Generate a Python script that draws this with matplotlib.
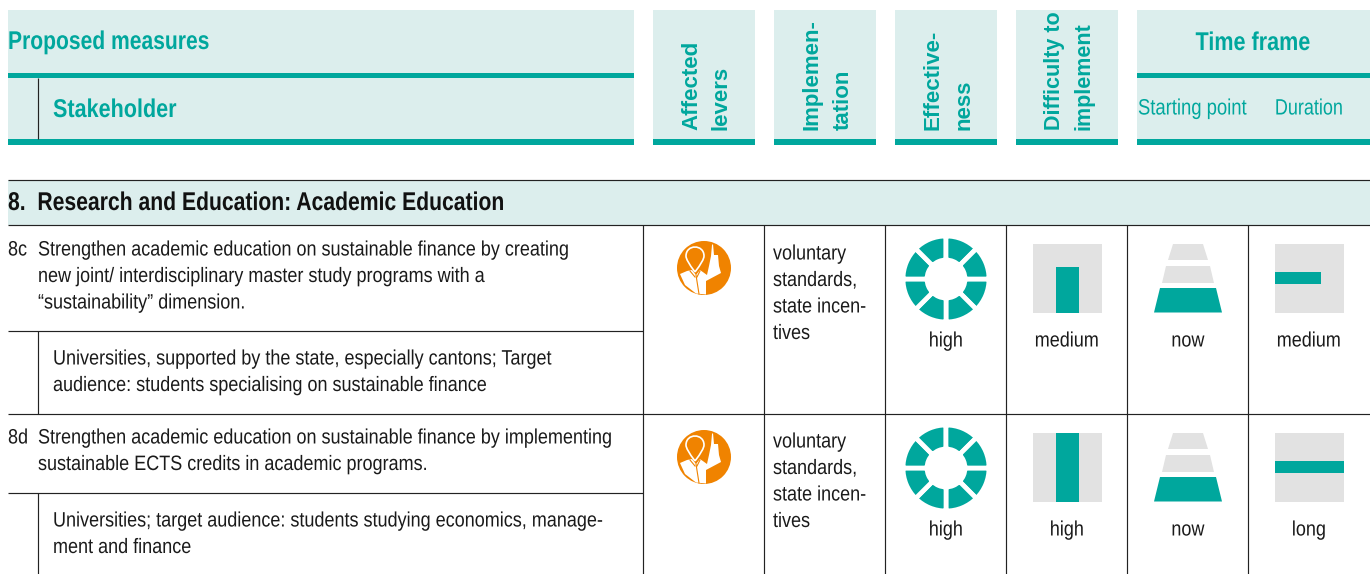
import matplotlib
matplotlib.use("Agg")
import matplotlib.pyplot as plt
from matplotlib.patches import Rectangle, Wedge, Polygon, Circle, PathPatch
from matplotlib.path import Path
from matplotlib.patheffects import AbstractPathEffect
from matplotlib.transforms import Affine2D

WIDE = ['Liberation Sans', 'DejaVu Sans']

TEAL = '#00a79d'
BAND = '#dceeed'
ORANGE = '#f08300'
GREY = '#e2e2e2'
INK = '#222222'

# table content
section_title = "8.  Research and Education: Academic Education"
measure_ids = ["8c", "8d"]
measure_lines = [
    ["Strengthen academic education on sustainable finance by creating",
     "new joint/ interdisciplinary master study programs with a",
     "“sustainability” dimension."],
    ["Strengthen academic education on sustainable finance by implementing",
     "sustainable ECTS credits in academic programs."],
]
stakeholder_lines = [
    ["Universities, supported by the state, especially cantons; Target",
     "audience: students specialising on sustainable finance"],
    ["Universities; target audience: students studying economics, manage-",
     "ment and finance"],
]
implementation_lines = ["voluntary", "standards,", "state incen-", "tives"]
effectiveness = ["high", "high"]
difficulty = ["medium", "high"]
starting_point = ["now", "now"]
duration = ["medium", "long"]

rotated_headers = [["Affected", "levers"], ["Implemen-", "tation"],
                   ["Effective-", "ness"], ["Difficulty to", "implement"]]
level_share = {"medium": 2 / 3, "long": 1.0, "high": 1.0}

# layout in pixels
row_tops = [225, 414]
text_tops = [225, 413]
sub_lines = [331, 493]
col_lines = [643, 764, 885, 1006, 1127, 1248]
header_cols = [(653, 755), (774, 876), (895, 997), (1016, 1118)]
rotated_x = [(691.5, 721), (812, 843), (933, 964), (1054.5, 1084)]
rotated_size = [16, 16, 16, 15.5]

fig = plt.figure(figsize=(13.7, 5.74), dpi=100)
ax = fig.add_axes([0, 0, 1, 1])
ax.set_xlim(0, 1370)
ax.set_ylim(574, 0)
ax.axis("off")


# no condensed face installed, so narrow the text around its anchor when drawing
class Squeeze(AbstractPathEffect):
    def __init__(self, x0, sx):
        super().__init__()
        self.x0 = x0
        self.sx = sx

    def draw_path(self, renderer, gc, tpath, affine, rgbFace=None):
        t = affine + Affine2D().translate(-self.x0, 0).scale(self.sx, 1).translate(self.x0, 0)
        renderer.draw_path(gc, tpath, t, rgbFace)


def narrow(x, y, s, size, sx, color, ha="left", weight="normal"):
    ax.text(x, y, s, family=WIDE, fontsize=size, color=color, ha=ha, va="center", fontweight=weight,
            zorder=6, path_effects=[Squeeze(x, sx)])


def box(x0, y0, x1, y1, color, z=2):
    ax.add_patch(Rectangle((x0, y0), x1 - x0, y1 - y0, fc=color, ec="none", zorder=z))


def line(x0, y0, x1, y1):
    ax.plot([x0, x1], [y0, y1], color=INK, lw=0.85, zorder=3, solid_capstyle="butt")


def body(x, y, s, ha="left"):
    narrow(x, y, s, 15, 0.865, "#1a1a1a", ha=ha)


def trapezoid(cx, y0, y1, w0, w1, color):
    ax.add_patch(Polygon([(cx - w0, y0), (cx + w0, y0), (cx + w1, y1), (cx - w1, y1)],
                         fc=color, ec="none", zorder=4))


def person(cx, cy):
    ax.add_patch(Circle((cx, cy), 27, fc=ORANGE, ec="none", zorder=4))
    # shirt and raised arm, relative to the circle centre
    shirt = [(-24, 6), (-17, 3), (-12, 2), (-8, 7), (-4, 2), (3, 7), (5, -2), (7, -12), (8, -23), (9, -24),
             (10, -13), (14, -13), (15, -2), (17, 5), (2, 13), (2, 26.5), (-8, 25.5), (-19, 17)]
    ax.add_patch(Polygon([(cx + a, cy + b) for a, b in shirt], fc="white", ec="none", zorder=5))
    head = [(-9, 4), (-15, -4), (-18, -9), (-18, -12), (-18, -24), (0, -24), (0, -12), (0, -9), (-3, -4), (-9, 4)]
    codes = [Path.MOVETO] + [Path.CURVE4] * 9
    ax.add_patch(PathPatch(Path([(cx + a, cy + b) for a, b in head], codes), fc=ORANGE, ec="white",
                           lw=1.2, zorder=6))
    for a, b, c, d in [(-8, 7, -5, 26), (-14, 3, -9, 9), (-4, 3, -7, 9)]:
        ax.plot([cx + a, cx + c], [cy + b, cy + d], color=ORANGE, lw=0.8, zorder=6)


def wheel(cx, cy, level):
    for k in range(8):
        ax.add_patch(Wedge((cx, cy), 43, 45 * k, 45 * (k + 1), width=24,
                           fc=TEAL if level == "high" else GREY, ec="white", lw=3.4, zorder=4))


# header bands
box(8, 10, 634, 145, BAND, 1)
for x0, x1 in header_cols:
    box(x0, 10, x1, 145, BAND, 1)
box(1137, 10, 1370, 145, BAND, 1)
for x0, x1 in [(8, 634), (1137, 1370)]:
    box(x0, 73, x1, 78, TEAL)
for x0, x1 in [(8, 634)] + header_cols + [(1137, 1370)]:
    box(x0, 139, x1, 144.5, TEAL)
line(38.5, 78, 38.5, 139)

narrow(8, 42, "Proposed measures", 18.5, 0.82, TEAL, weight="bold")
narrow(53, 110, "Stakeholder", 18.5, 0.84, TEAL, weight="bold")
narrow(1253, 43, "Time frame", 18.5, 0.84, TEAL, ha="center", weight="bold")
narrow(1192.5, 109, "Starting point", 16, 0.83, TEAL, ha="center")
narrow(1309, 109, "Duration", 16, 0.81, TEAL, ha="center")

for xs, words, size in zip(rotated_x, rotated_headers, rotated_size):
    for x, w in zip(xs, words):
        ax.text(x, 130, w, family=WIDE, fontsize=size, fontweight="bold", color=TEAL,
                rotation=90, ha="center", va="bottom", zorder=6)

# section band
box(8, 180, 1370, 225, BAND, 1)
line(8, 180, 1370, 180)
line(8, 225, 1370, 225)
narrow(8, 203, section_title, 18.5, 0.823, "#111111", weight="bold")

# grid
line(8, row_tops[1], 1370, row_tops[1])
for y in sub_lines:
    line(8, y, 643, y)
for x in col_lines:
    line(x + .5, 225, x + .5, 574)
line(38.5, sub_lines[0], 38.5, row_tops[1])
line(38.5, sub_lines[1], 38.5, 574)

# rows
for r, top in enumerate(row_tops):
    text_top = text_tops[r]
    body(8, text_top + 25, measure_ids[r])
    for i, s in enumerate(measure_lines[r]):
        body(38, text_top + 25 + i * 26.5, s)
    for i, s in enumerate(stakeholder_lines[r]):
        body(53, sub_lines[r] + 28 + i * 26.5, s)
    for i, s in enumerate(implementation_lines):
        body(773, text_top + 29 + i * 26.5, s)

    person(704, top + 43)
    wheel(946, top + 54, effectiveness[r])

    # difficulty: vertical bar filling the grey square
    y0, y1 = top + 19, top + 88
    box(1033, y0, 1102, y1, GREY, 3)
    h = 69 * level_share[difficulty[r]]
    ax.bar(1067.5, h, width=23, bottom=y1 - h, color=TEAL, zorder=4)

    # starting point: three stacked trapezoids, the bottom one is now
    cx = 1188
    lit = starting_point[r] == "now"
    trapezoid(cx, top + 63, top + 87.5, 28, 34, TEAL if lit else GREY)
    trapezoid(cx, top + 41, top + 58, 22, 26, GREY)
    trapezoid(cx, top + 19, top + 35, 15, 20, GREY)

    # duration: horizontal bar
    box(1275, y0, 1344, y1, GREY, 3)
    ax.barh(top + 53, 69 * level_share[duration[r]], height=12, left=1275, color=TEAL, zorder=4)

    label_y = top + 116
    body(946, label_y, effectiveness[r], ha="center")
    body(1067, label_y, difficulty[r], ha="center")
    body(1188, label_y, starting_point[r], ha="center")
    body(1309, label_y, duration[r], ha="center")

ax.set_xlim(0, 1370)
ax.set_ylim(574, 0)
fig.savefig("out.png", dpi=100)
